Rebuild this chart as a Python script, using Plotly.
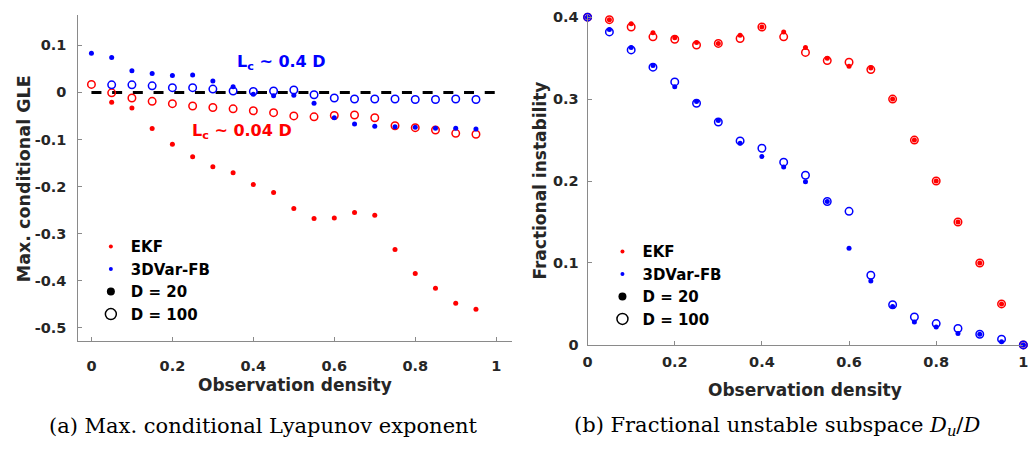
import plotly.graph_objects as go

# ---------------- data ----------------
# (a) maximum conditional GLE vs observation density
density_a = [0.0, 0.05, 0.10, 0.15, 0.20, 0.25, 0.30, 0.35, 0.40, 0.45,
             0.50, 0.55, 0.60, 0.65, 0.70, 0.75, 0.80, 0.85, 0.90, 0.95]
gle_ekf_d20 = [None, -0.021, -0.033, -0.077, -0.110, -0.137, -0.158, -0.171, -0.196, -0.213,
               -0.247, -0.268, -0.267, -0.255, -0.261, -0.334, -0.385, -0.416, -0.448, -0.461]
gle_ekf_d100 = [0.017, -0.001, -0.012, -0.019, -0.024, -0.029, -0.032, -0.035, -0.039, -0.043,
                -0.050, -0.052, -0.049, -0.048, -0.054, -0.071, -0.075, -0.080, -0.087, -0.089]
gle_3dvar_d20 = [0.083, 0.074, 0.046, 0.040, 0.036, 0.037, 0.024, 0.012, -0.004, -0.007,
                 -0.006, -0.023, -0.054, -0.067, -0.072, -0.073, -0.074, -0.076, -0.076, -0.078]
gle_3dvar_d100 = [None, 0.016, 0.016, 0.014, 0.010, 0.010, 0.007, 0.003, 0.002, 0.003,
                  0.005, -0.005, -0.012, -0.014, -0.014, -0.014, -0.015, -0.015, -0.014, -0.015]

# (b) fractional unstable subspace vs observation density
density_b = [0.0, 0.05, 0.10, 0.15, 0.20, 0.25, 0.30, 0.35, 0.40, 0.45, 0.50,
             0.55, 0.60, 0.65, 0.70, 0.75, 0.80, 0.85, 0.90, 0.95, 1.0]
frac_ekf_d20 = [0.400, 0.397, 0.392, 0.381, 0.375, 0.369, 0.368, 0.378, 0.388, 0.382, 0.363,
                0.350, 0.340, 0.338, 0.300, 0.250, 0.200, 0.150, 0.100, 0.050, 0.0]
frac_ekf_d100 = [0.400, 0.397, 0.388, 0.376, 0.373, 0.366, 0.368, 0.374, 0.388, 0.376, 0.357,
                 0.347, 0.345, 0.336, 0.300, 0.250, 0.200, 0.150, 0.100, 0.050, 0.0]
frac_3dvar_d20 = [0.400, 0.385, 0.363, 0.341, 0.315, 0.297, 0.274, 0.246, 0.230, 0.217, 0.199,
                  0.175, 0.118, 0.078, 0.047, 0.028, 0.022, 0.014, 0.013, 0.004, 0.0]
frac_3dvar_d100 = [0.400, 0.382, 0.360, 0.339, 0.321, 0.295, 0.272, 0.249, 0.240, 0.223, 0.207,
                   0.175, 0.163, 0.085, 0.049, 0.034, 0.026, 0.020, 0.013, 0.007, 0.0]

x_ticks = [0, 0.2, 0.4, 0.6, 0.8, 1]
x_ticktext = ["0", "0.2", "0.4", "0.6", "0.8", "1"]
ya_ticks = [-0.5, -0.4, -0.3, -0.2, -0.1, 0, 0.1]
ya_ticktext = ["-0.5", "-0.4", "-0.3", "-0.2", "-0.1", "0", "0.1"]
yb_ticks = [0, 0.1, 0.2, 0.3, 0.4]
yb_ticktext = ["0", "0.1", "0.2", "0.3", "0.4"]

# ---------------- styling ----------------
RED = "#FF0000"
BLUE = "#0000FF"
SANS = "DejaVu Sans"
SERIF = "DejaVu Serif"
TXT = "#262626"
AXC = "#8a8a8a"
W, H = 1032, 451

DOT = 5
RING = 7.5
RING_W = 1.5

fig = go.Figure()


def dots(x, y, color, xa, ya):
    return go.Scatter(x=x, y=y, mode="markers", xaxis=xa, yaxis=ya, showlegend=False,
                      cliponaxis=False, hoverinfo="skip",
                      marker=dict(size=DOT, color=color, line=dict(width=0)))


def rings(x, y, color, xa, ya):
    return go.Scatter(x=x, y=y, mode="markers", xaxis=xa, yaxis=ya, showlegend=False,
                      cliponaxis=False, hoverinfo="skip",
                      marker=dict(size=RING, symbol="circle-open", color=color,
                                  line=dict(width=RING_W, color=color)))


# panel (a)
fig.add_trace(dots(density_a, gle_ekf_d20, RED, "x", "y"))
fig.add_trace(rings(density_a, gle_ekf_d100, RED, "x", "y"))
fig.add_trace(dots(density_a, gle_3dvar_d20, BLUE, "x", "y"))
fig.add_trace(rings(density_a, gle_3dvar_d100, BLUE, "x", "y"))

# panel (b)
fig.add_trace(dots(density_b, frac_ekf_d20, RED, "x2", "y2"))
fig.add_trace(rings(density_b, frac_ekf_d100, RED, "x2", "y2"))
fig.add_trace(dots(density_b, frac_3dvar_d20, BLUE, "x2", "y2"))
fig.add_trace(rings(density_b, frac_3dvar_d100, BLUE, "x2", "y2"))

# legend entries (one legend per panel)
legend_items = [
    ("EKF", dict(size=4, color=RED, symbol="circle")),
    ("3DVar-FB", dict(size=4, color=BLUE, symbol="circle")),
    ("D = 20", dict(size=8, color="black", symbol="circle")),
    ("D = 100", dict(size=11, color="black", symbol="circle-open", line=dict(width=1.5, color="black"))),
]
for lg, xa, ya in (("legend", "x", "y"), ("legend2", "x2", "y2")):
    for name, mk in legend_items:
        fig.add_trace(go.Scatter(x=[None], y=[None], mode="markers", name=name, marker=mk,
                                 xaxis=xa, yaxis=ya, legend=lg, showlegend=True))

tickfont = dict(family=SANS, size=14.5, color=TXT, weight="bold")
common_axis = dict(showline=True, linecolor=AXC, linewidth=1, ticks="inside", ticklen=4,
                   tickcolor=AXC, tickwidth=1, showgrid=False, zeroline=False,
                   tickfont=tickfont, mirror=False, fixedrange=True,
                   ticklabeloverflow="allow")

fig.update_layout(
    width=W, height=H, autosize=False,
    margin=dict(l=0, r=0, t=0, b=0, pad=0),
    paper_bgcolor="white", plot_bgcolor="white",
    showlegend=True,
    xaxis=dict(domain=[74 / W, 511.7 / W], range=[-0.0325, 1.0384], anchor="y",
               tickvals=x_ticks, ticktext=x_ticktext, ticklabelstandoff=12, **common_axis),
    yaxis=dict(domain=[(H - 345.7) / H, (H - 10) / H], range=[-0.5278, 0.1651], anchor="x",
               tickvals=ya_ticks, ticktext=ya_ticktext, ticklabelstandoff=8, **common_axis),
    xaxis2=dict(domain=[588.3 / W, 1028.3 / W], range=[0, 1], anchor="y2",
                tickvals=x_ticks, ticktext=x_ticktext, ticklabelstandoff=4, **common_axis),
    yaxis2=dict(domain=[(H - 350) / H, (H - 10) / H], range=[0, 0.403], anchor="x2",
                tickvals=yb_ticks, ticktext=yb_ticktext, ticklabelstandoff=5, **common_axis),
    legend=dict(x=86.7 / W, y=(H - 232) / H, xanchor="left", yanchor="top",
                bgcolor="rgba(0,0,0,0)", borderwidth=0, tracegroupgap=0,
                font=dict(family=SANS, size=15, color="black", weight="bold")),
    legend2=dict(x=603.3 / W, y=(H - 237) / H, xanchor="left", yanchor="top",
                 bgcolor="rgba(0,0,0,0)", borderwidth=0, tracegroupgap=0,
                 font=dict(family=SANS, size=15, color="black", weight="bold")),
)

# zero reference line in panel (a)
fig.add_shape(type="line", xref="x", yref="y", x0=0, x1=1, y0=0, y1=0,
              line=dict(color="black", width=3, dash="10px,10.7px"), layer="below")

bold = dict(family=SANS, color=TXT, weight="bold")
annotations = [
    # correlation-length labels
    dict(text="L<sub>c</sub> ~ 0.4 D", x=0.354, y=0.064, xref="x", yref="y",
         xanchor="left", yanchor="middle", showarrow=False,
         font=dict(family=SANS, size=16, color=BLUE, weight="bold")),
    dict(text="L<sub>c</sub> ~ 0.04 D", x=0.244, y=-0.084, xref="x", yref="y",
         xanchor="left", yanchor="middle", showarrow=False,
         font=dict(family=SANS, size=16, color=RED, weight="bold")),
    # axis titles
    dict(text="Observation density", x=293 / W, y=(H - 391.7) / H, xref="paper", yref="paper",
         xanchor="center", yanchor="middle", showarrow=False, font=dict(size=17, **bold)),
    dict(text="Observation density", x=808.3 / W, y=(H - 396) / H, xref="paper", yref="paper",
         xanchor="center", yanchor="middle", showarrow=False, font=dict(size=17, **bold)),
    dict(text="Max. conditional GLE", x=20 / W, y=(H - 178.5) / H, xref="paper", yref="paper",
         xanchor="center", yanchor="middle", showarrow=False, textangle=-90,
         font=dict(size=17.5, **bold)),
    dict(text="Fractional instability", x=540 / W, y=(H - 181) / H, xref="paper", yref="paper",
         xanchor="center", yanchor="middle", showarrow=False, textangle=-90,
         font=dict(size=17, **bold)),
    # panel captions
    dict(text="(a) Max. conditional Lyapunov exponent", x=261 / W, y=(H - 433) / H,
         xref="paper", yref="paper", xanchor="center", yanchor="middle", showarrow=False,
         font=dict(family=SERIF, size=21, color="black")),
    dict(text="(b) Fractional unstable subspace <i>D<sub>u</sub></i>/<i>D</i>", x=780 / W,
         y=(H - 433) / H, xref="paper", yref="paper", xanchor="center", yanchor="middle",
         showarrow=False, font=dict(family=SERIF, size=21, color="black")),
]
fig.update_layout(annotations=annotations)

fig.write_html("out.html", config=dict(displayModeBar=False))
